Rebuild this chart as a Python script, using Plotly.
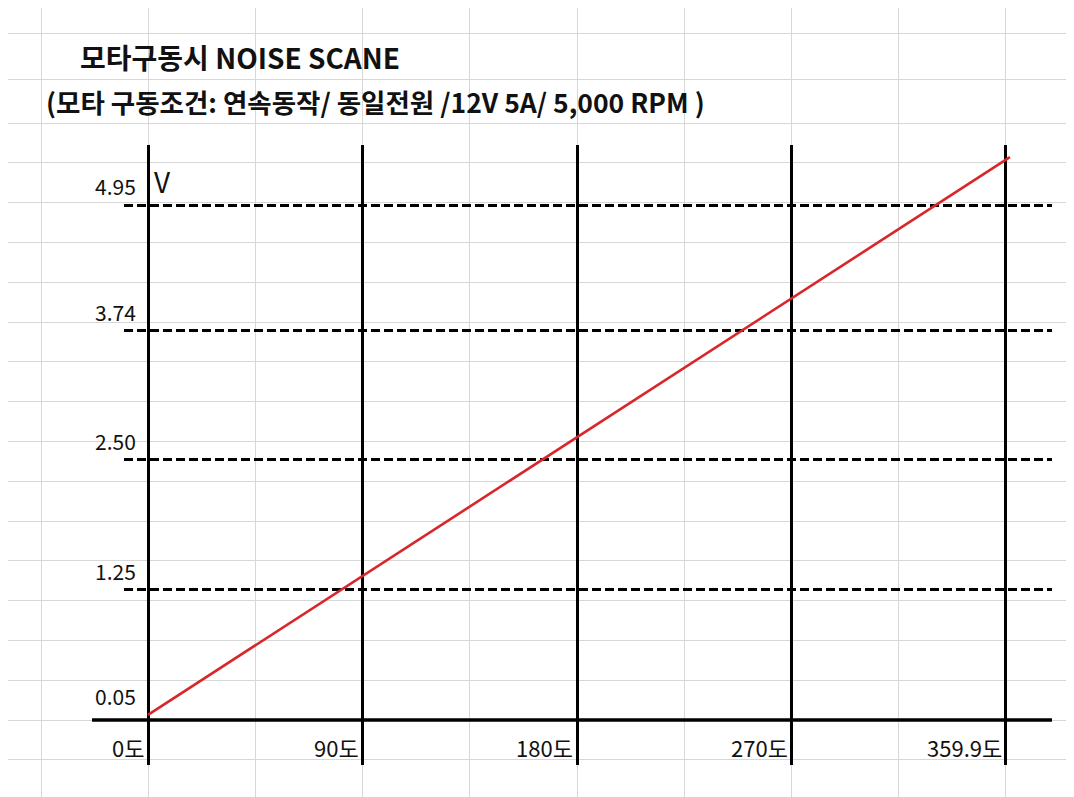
import numpy as np
import plotly.graph_objects as go

# ---------------- data ----------------
title_text = "모타구동시 NOISE SCANE"
subtitle_text = "(모타 구동조건: 연속동작/ 동일전원 /12V 5A/ 5,000 RPM )"
angle_ticks = [0, 90, 180, 270, 359.9]
angle_labels = ["0도", "90도", "180도", "270도", "359.9도"]
volt_levels = [0.05, 1.25, 2.50, 3.74, 4.95]
volt_labels = ["0.05", "1.25", "2.50", "3.74", "4.95"]
dashed_levels = [1.25, 2.50, 3.74, 4.95]
noise_angle = [0, 361.6]
noise_volt = [0.05, 5.41]
unit_label = "V"

# ---------------- layout constants (pixels, in page coordinates) ----------------
W, H = 1074, 797
OFF = 8          # page body margin: the figure is drawn 8px right / 8px down
PX_PER_DEG = 2.3835
PX_PER_VOLT = 104.04
X0_PX = 148      # page column of 0 deg
Y0_PX = 720      # page row of 0 V (baseline)
PLOT_LEFT, PLOT_RIGHT = 124, 1052
PLOT_TOP, PLOT_BOTTOM = 145, 765

# spreadsheet background cells
COL_W = 107.2
col_lines = [41 + COL_W * k for k in range(10)]
ROW_H = 39.8
row_lines = [Y0_PX + ROW_H * k for k in range(-15, 2)] + [79, 33]


def px2deg(p):
    return (p - X0_PX) / PX_PER_DEG


def px2volt(p):
    return (Y0_PX - p) / PX_PER_VOLT


def fx(p):  # page x -> paper fraction
    return (p - OFF) / W


def fy(p):  # page y -> paper fraction
    return 1 - (p - OFF) / H


FONT = "Noto Sans CJK KR, Malgun Gothic, sans-serif"

fig = go.Figure()
# invisible trace to hold the background (spreadsheet grid) subplot
fig.add_trace(go.Scatter(x=[None], y=[None], xaxis="x", yaxis="y",
                         showlegend=False, hoverinfo="skip"))
# the measured line
fig.add_trace(go.Scatter(x=noise_angle, y=noise_volt, mode="lines",
                         line=dict(color="#d8262a", width=2.6),
                         xaxis="x2", yaxis="y2", showlegend=False))

annotations = []
annotations.append(dict(text="<b>" + title_text + "</b>", xref="paper", yref="paper",
                        x=fx(78), y=fy(57), xanchor="left", yanchor="middle",
                        showarrow=False, font=dict(family=FONT, size=28, color="#111")))
annotations.append(dict(text="<b>" + subtitle_text + "</b>", xref="paper", yref="paper",
                        x=fx(44), y=fy(102), xanchor="left", yanchor="middle",
                        showarrow=False, font=dict(family=FONT, size=26.5, color="#111")))
for v, lab in zip(volt_levels, volt_labels):
    annotations.append(dict(text=lab, xref="x2", yref="y2", x=0, y=v,
                            xanchor="right", yanchor="bottom", xshift=-10, yshift=2,
                            showarrow=False, font=dict(family=FONT, size=21, color="#111")))
annotations.append(dict(text=unit_label, xref="x2", yref="y2", x=0, y=max(volt_levels),
                        xanchor="left", yanchor="bottom", xshift=4, yshift=2,
                        showarrow=False, font=dict(family=FONT, size=28, color="#111")))
for a, lab in zip(angle_ticks, angle_labels):
    annotations.append(dict(text=lab, xref="x2", yref="y2", x=a, y=0,
                            xanchor="right", yanchor="top", xshift=-2, yshift=-9,
                            showarrow=False, font=dict(family=FONT, size=22, color="#111")))

shapes = [dict(type="line", xref="paper", yref="y2",
               x0=fx(92), x1=fx(1052), y0=0, y1=0,
               line=dict(color="#000", width=3.5), layer="above")]

fig.update_layout(
    width=W, height=H,
    margin=dict(l=0, r=0, t=0, b=0),
    paper_bgcolor="white",
    plot_bgcolor="rgba(0,0,0,0)",
    showlegend=False,
    xaxis=dict(domain=[0, 1], range=[OFF, W + OFF], tickvals=col_lines,
               showgrid=True, gridcolor="#d7d7d7", gridwidth=1.3,
               showticklabels=False, ticks="", zeroline=False, showline=False,
               anchor="y", fixedrange=True),
    yaxis=dict(domain=[0, 1], range=[H + OFF, OFF], tickvals=row_lines,
               showgrid=True, gridcolor="#d7d7d7", gridwidth=1.3,
               showticklabels=False, ticks="", zeroline=False, showline=False,
               anchor="x", fixedrange=True),
    xaxis2=dict(domain=[fx(PLOT_LEFT), fx(PLOT_RIGHT)],
                range=[px2deg(PLOT_LEFT), px2deg(PLOT_RIGHT)],
                tickvals=angle_ticks, showgrid=True, gridcolor="#000", gridwidth=2.6,
                showticklabels=False, ticks="", zeroline=False, showline=False,
                anchor="y2", fixedrange=True),
    yaxis2=dict(domain=[fy(PLOT_BOTTOM), fy(PLOT_TOP)],
                range=[px2volt(PLOT_BOTTOM), px2volt(PLOT_TOP)],
                tickvals=dashed_levels, showgrid=True, gridcolor="#000", gridwidth=2.6,
                griddash="9px,4px",
                showticklabels=False, ticks="", zeroline=False, showline=False,
                anchor="x2", fixedrange=True),
    annotations=annotations,
    shapes=shapes,
)

fig.write_html("out.html")
